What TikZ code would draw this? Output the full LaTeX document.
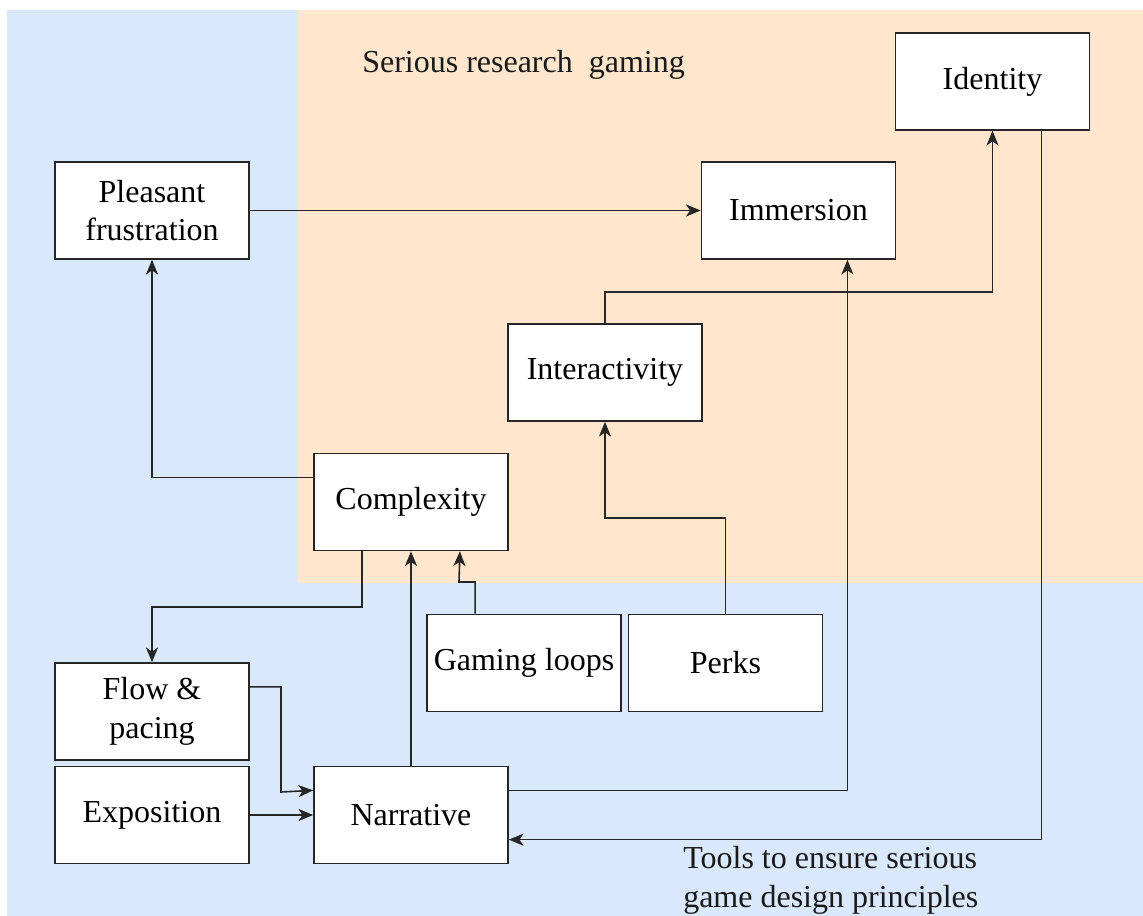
\documentclass[tikz,border=0pt]{standalone}
\usepackage{fontspec}
\setmainfont{Liberation Serif}
\usetikzlibrary{arrows.meta,calc}
\definecolor{bgblue}{HTML}{DAE8FC}
\definecolor{bgpeach}{HTML}{FFE6CC}
\begin{document}
\begin{tikzpicture}[x=0.75pt,y=-0.75pt,
  box/.style={draw=black!85,fill=white,line width=1.2pt,minimum width=194*0.75pt,
    minimum height=97*0.75pt,align=center,inner sep=2pt,
    font=\fontsize{24}{29}\selectfont},
  link/.style={draw=black!85,line width=1.2pt,-{Stealth[length=11pt,width=9pt,inset=3pt]}},
  txt/.style={font=\fontsize{24}{29}\selectfont,text=black!90,inner sep=0pt}]
  % canvas and the two zones
  \useasboundingbox (0,0) rectangle (1143,916);
  \fill[white] (0,0) rectangle (1143,916);
  \fill[bgblue] (7,10) rectangle (1143,916);
  \fill[bgpeach] (298,10) rectangle (1143,583);

  \node[txt,anchor=west] (title) at (362,65) {Serious research\ \ gaming};

  % boxes
  \node[box] (pf) at (152,210.5) {Pleasant\\frustration};
  \node[box] (imm) at (798.5,210.5) {Immersion};
  \node[box] (id) at (992.5,81.5) {Identity};
  \node[box] (inter) at (605,372.5) {Interactivity};
  \node[box] (cx) at (411,502) {Complexity};
  \node[box] (gl) at (524,663) {Gaming loops};
  \node[box] (pk) at (725.5,663) {Perks};
  \node[box] (fp) at (152,711.5) {Flow \&\\pacing};
  \node[box] (ex) at (152,815) {Exposition};
  \node[box] (nar) at (411,815) {Narrative};

  \node[txt,anchor=north west,align=left] (tools) at (683,846)
    {Tools to ensure serious\\game design principles};

  % connectors
  \draw[link] (pf.east) -- (imm.west);
  \draw[link] ($(cx.north west)!0.25!(cx.south west)$) -| (pf.south);
  \draw[link] ($(cx.south west)!0.25!(cx.south east)$) |- (152,607) -- (fp.north);
  \draw[link] ($(fp.north east)!0.25!(fp.south east)$) -| (281,792) -- ($(nar.north west)!0.25!(nar.south west)$);
  \draw[link] (ex.east) -- (nar.west);
  \draw[link] (nar.north) -- (cx.south);
  \draw[link] ($(gl.north west)!0.25!(gl.north east)$) |- (459,582) -- ($(cx.south west)!0.75!(cx.south east)$);
  \draw[link] (pk.north) |- (605,518) -- (inter.south);
  \draw[link] (inter.north) |- (992.5,292) -- (id.south);
  \draw[link] ($(nar.north east)!0.25!(nar.south east)$) -| ($(imm.south west)!0.75!(imm.south east)$);
  \draw[link] ($(id.south west)!0.75!(id.south east)$) |- ($(nar.north east)!0.75!(nar.south east)$);
\end{tikzpicture}
\end{document}
